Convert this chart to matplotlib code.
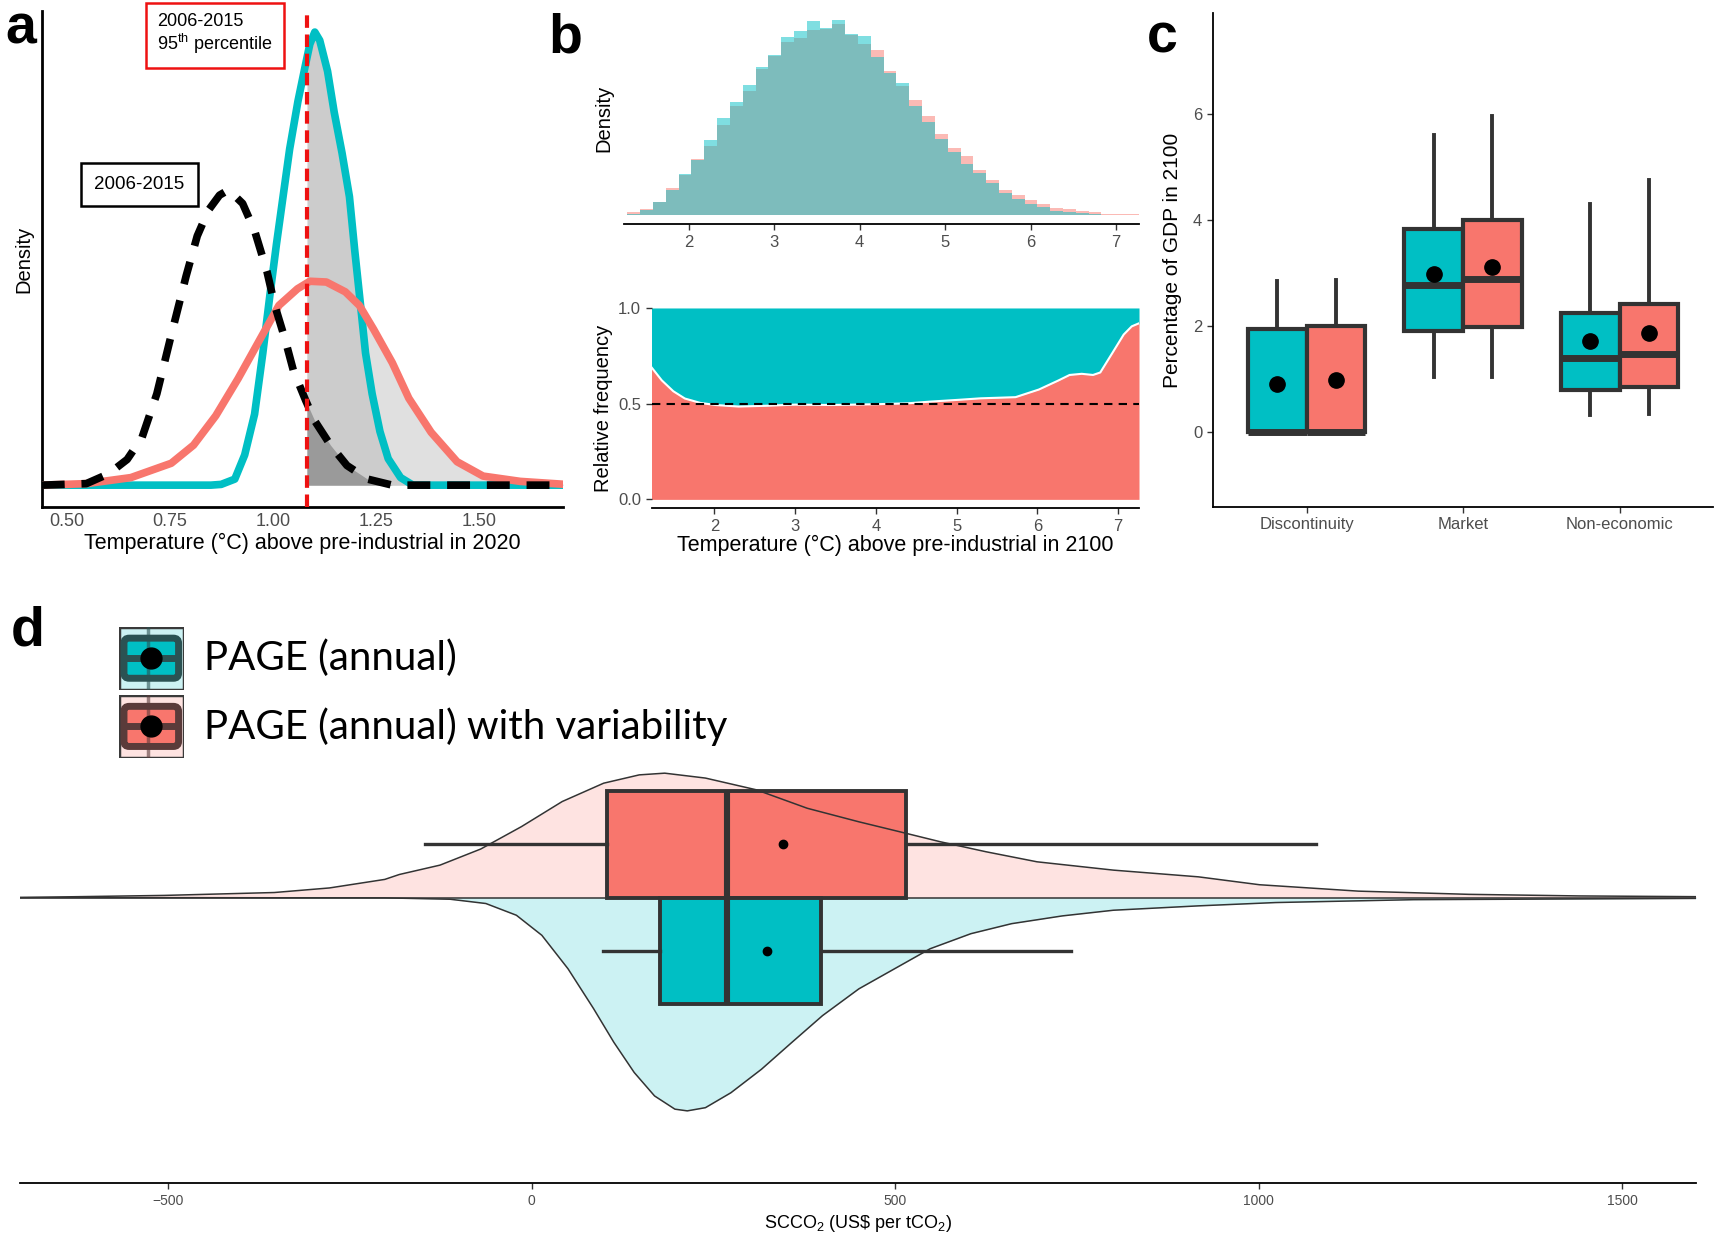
import numpy as np
import matplotlib
matplotlib.use("Agg")
import matplotlib.pyplot as plt
from matplotlib.patches import Rectangle, FancyBboxPatch

plt.rcParams['font.family'] = ['Liberation Sans', 'DejaVu Sans']
plt.rcParams['mathtext.fontset'] = 'custom'
plt.rcParams['mathtext.rm'] = 'Liberation Sans'
plt.rcParams['mathtext.it'] = 'Liberation Sans:italic'
plt.rcParams['mathtext.bf'] = 'Liberation Sans:bold'

TEAL = '#00BFC4'
SALMON = '#F8766D'
TICK_GREY = '#4D4D4D'
DARK = '#333333'

# ---- panel a: warming in 2020 (density, arbitrary units)
a_teal_x = [0.44, 0.85, 0.875, 0.908, 0.932, 0.956, 0.976, 0.993, 1.009, 1.025, 1.041, 1.061, 1.078,
            1.090, 1.102, 1.114, 1.133, 1.149, 1.168, 1.186, 1.199, 1.213, 1.225, 1.241, 1.26, 1.28,
            1.31, 1.34, 1.71]
a_teal_y = [0, 0, 0.01, 0.08, 0.40, 0.94, 1.75, 2.51, 3.19, 3.82, 4.45, 5.08, 5.53,
            5.84, 6.0, 5.89, 5.48, 4.94, 4.40, 3.82, 3.10, 2.38, 1.75, 1.21, 0.71, 0.35,
            0.10, 0.0, 0]
a_red_x = [0.44, 0.548, 0.656, 0.754, 0.808, 0.862, 0.916, 0.970, 1.015, 1.060, 1.090,
           1.130, 1.176, 1.210, 1.245, 1.290, 1.330, 1.384, 1.447, 1.510, 1.600, 1.71]
a_red_y = [0, 0.02, 0.10, 0.29, 0.53, 0.92, 1.41, 1.94, 2.38, 2.60, 2.70,
           2.69, 2.56, 2.38, 2.06, 1.62, 1.15, 0.70, 0.31, 0.12, 0.05, 0.01]
a_obs_x = [0.44, 0.548, 0.602, 0.647, 0.683, 0.719, 0.754, 0.790, 0.817, 0.844, 0.871, 0.893,
           0.927, 0.956, 0.986, 1.005, 1.030, 1.050, 1.080, 1.102, 1.140, 1.180, 1.230, 1.290, 1.71]
a_obs_y = [0, 0.02, 0.15, 0.34, 0.63, 1.21, 1.99, 2.77, 3.30, 3.64, 3.84, 3.91,
           3.73, 3.37, 2.83, 2.38, 1.93, 1.52, 1.12, 0.85, 0.53, 0.26, 0.08, 0, 0]
a_p95 = 1.083
a_ticks = [0.50, 0.75, 1.00, 1.25, 1.50]

# ---- panel b: warming in 2100
b_bin_start = 1.28
b_bin_width = 0.15
b_hist_teal = [3, 12, 35, 68, 111, 148, 201, 263, 305, 351, 401, 431, 481, 496, 524, 506, 526, 488, 483, 428,
               383, 356, 295, 251, 205, 170, 138, 113, 86, 58, 43, 30, 20, 11, 8, 5, 3, 0, 0, 0]
b_hist_red = [6, 16, 35, 71, 108, 150, 185, 243, 293, 336, 393, 430, 468, 478, 500, 503, 516, 486, 463, 445,
              390, 348, 311, 268, 218, 180, 160, 120, 94, 66, 53, 40, 30, 18, 15, 10, 6, 3, 3, 2]
b_rf_x = [1.22, 1.347, 1.49, 1.633, 1.824, 2.014, 2.30, 2.634, 3.0, 3.445, 4.0, 4.40, 4.68,
          5.02, 5.30, 5.73, 6.02, 6.26, 6.40, 6.55, 6.69, 6.78, 6.93, 7.07, 7.17, 7.26]
b_rf_y = [0.69, 0.622, 0.565, 0.527, 0.504, 0.493, 0.485, 0.489, 0.495, 0.493, 0.497, 0.502, 0.511,
          0.520, 0.528, 0.534, 0.574, 0.621, 0.650, 0.656, 0.650, 0.663, 0.765, 0.861, 0.904, 0.920]

# ---- panel c: damages by sector, % GDP in 2100
c_cats = ['Discontinuity', 'Market', 'Non-economic']
c_teal_q1 = [0.0, 1.91, 0.80]
c_teal_med = [0.0, 2.78, 1.40]
c_teal_q3 = [1.95, 3.83, 2.25]
c_teal_lo = [0.0, 1.04, 0.33]
c_teal_hi = [2.85, 5.60, 4.31]
c_teal_mean = [0.91, 2.99, 1.73]
c_red_q1 = [0.0, 1.99, 0.86]
c_red_med = [0.0, 2.90, 1.48]
c_red_q3 = [2.01, 4.01, 2.42]
c_red_lo = [0.0, 1.04, 0.34]
c_red_hi = [2.87, 5.96, 4.76]
c_red_mean = [0.98, 3.11, 1.88]

# ---- panel d: SCCO2 distribution (half violins, box = 1 unit tall)
d_red_x = [-705, -505, -354, -278, -202, -182, -126, -70, -14, 42, 99, 148, 183, 239, 309, 379,
           450, 506, 562, 625, 695, 800, 917, 1001, 1137, 1289, 1441, 1604]
d_red_h = [0, 0.02, 0.047, 0.09, 0.17, 0.216, 0.304, 0.455, 0.665, 0.90, 1.072, 1.15, 1.166, 1.12, 1.01, 0.837,
           0.71, 0.617, 0.523, 0.429, 0.335, 0.257, 0.194, 0.12, 0.06, 0.03, 0.015, 0.008]
d_teal_x = [-705, -202, -112, -63, -21, 14, 50, 85, 113, 141, 169, 197, 214, 239, 274, 316, 358,
            400, 450, 499, 548, 604, 660, 730, 800, 917, 1023, 1213, 1604]
d_teal_h = [0, 0.003, 0.016, 0.056, 0.166, 0.354, 0.668, 1.04, 1.357, 1.64, 1.86, 1.984, 2.0, 1.97, 1.83, 1.61, 1.357,
            1.107, 0.856, 0.668, 0.48, 0.339, 0.245, 0.172, 0.119, 0.078, 0.047, 0.02, 0.008]
d_red_box = dict(q1=104, med=269, q3=515, whislo=-147, whishi=1078, mean=345)
d_teal_box = dict(q1=176, med=268, q3=398, whislo=98, whishi=742, mean=324)
d_ticks = [-500, 0, 500, 1000, 1500]
legend_labels = ['PAGE (annual)', 'PAGE (annual) with variability']

fig = plt.figure(figsize=(17.19, 12.56), dpi=100)


def right_part(xs, ys, thr):
    xs = np.asarray(xs, float)
    ys = np.asarray(ys, float)
    keep = xs > thr
    return np.r_[thr, xs[keep]], np.r_[np.interp(thr, xs, ys), ys[keep]]


# ================= panel a
ax = fig.add_axes([0.0243, 0.5963, 0.3035, 0.395])
for xs, ys, col in [(a_red_x, a_red_y, '#E0E0E0'), (a_teal_x, a_teal_y, '#CCCCCC'),
                    (a_obs_x, a_obs_y, '#9A9A9A')]:
    fx, fy = right_part(xs, ys, a_p95)
    ax.fill_between(fx, 0, fy, color=col, lw=0, zorder=1)
ax.plot(a_teal_x, a_teal_y, color=TEAL, lw=5.5, zorder=3, solid_joinstyle='round')
ax.plot(a_red_x, a_red_y, color=SALMON, lw=5.5, zorder=3, solid_joinstyle='round')
ax.plot(a_obs_x, a_obs_y, color='black', lw=5.5, zorder=4, dashes=(3, 2.2))
ax.axvline(a_p95, color='#EE1111', lw=3, dashes=(3, 1.6), zorder=5)
ax.set_xlim(0.44, 1.705)
ax.set_ylim(-0.29, 6.28)
ax.set_xticks(a_ticks)
ax.set_xticklabels(['%.2f' % t for t in a_ticks])
ax.tick_params(axis='x', length=0, labelsize=13, labelcolor=TICK_GREY, pad=4)
ax.set_yticks([])
for s in ['top', 'right']:
    ax.spines[s].set_visible(False)
for s in ['left', 'bottom']:
    ax.spines[s].set_linewidth(2)
ax.set_xlabel('Temperature (°C) above pre-industrial in 2020', fontsize=15.5, labelpad=2)
ax.set_ylabel('Density', fontsize=14.5, labelpad=6)
ax.text(0.2215, 0.996, '2006-2015\n95$^{\\mathrm{th}}$ percentile', transform=ax.transAxes,
        fontsize=13, va='top', ha='left', linespacing=1.1,
        bbox=dict(boxstyle='square,pad=0.65', fc='white', ec='#EE1111', lw=1.8))
ax.text(0.101, 0.65, '2006-2015', transform=ax.transAxes, fontsize=13.5, va='center', ha='left',
        bbox=dict(boxstyle='square,pad=0.7', fc='white', ec='black', lw=1.8))

# ================= panel b (top histogram)
edges = b_bin_start + b_bin_width * np.arange(len(b_hist_teal))
axb = fig.add_axes([0.363, 0.8214, 0.2996, 0.168])
axb.bar(edges, b_hist_red, width=b_bin_width, align='edge', color=SALMON, alpha=0.5, lw=0)
axb.bar(edges, b_hist_teal, width=b_bin_width, align='edge', color=TEAL, alpha=0.5, lw=0)
axb.set_xlim(1.24, 7.27)
axb.set_ylim(-26, 545)
axb.set_yticks([])
axb.set_xticks([2, 3, 4, 5, 6, 7])
axb.tick_params(axis='x', labelsize=12, labelcolor=TICK_GREY, length=4, width=1, color=DARK)
for s in ['top', 'right', 'left']:
    axb.spines[s].set_visible(False)
axb.spines['bottom'].set_linewidth(1.3)
axb.set_ylabel('Density', fontsize=14.5, labelpad=8)

# ================= panel b (relative frequency)
axr = fig.add_axes([0.379, 0.5954, 0.2836, 0.1594])
rx = np.asarray(b_rf_x)
ry = np.asarray(b_rf_y)
axr.fill_between(rx, 0, ry, color=SALMON, lw=0)
axr.fill_between(rx, ry, 1, color=TEAL, lw=0)
axr.plot(rx, ry, color='white', lw=1.5)
axr.axhline(0.5, color='black', lw=1.5, dashes=(4, 3))
axr.set_xlim(1.22, 7.26)
axr.set_ylim(-0.046, 1.0)
axr.set_xticks([2, 3, 4, 5, 6, 7])
axr.set_yticks([0.0, 0.5, 1.0])
axr.set_yticklabels(['0.0', '0.5', '1.0'])
axr.tick_params(labelsize=12, labelcolor=TICK_GREY, length=4, width=1, color=DARK)
for s in ['top', 'right', 'left']:
    axr.spines[s].set_visible(False)
axr.spines['bottom'].set_linewidth(1.3)
axr.set_ylabel('Relative frequency', fontsize=14.5, labelpad=4)
axr.set_xlabel('Temperature (°C) above pre-industrial in 2100', fontsize=15.5, labelpad=1)

# ================= panel c
axc = fig.add_axes([0.7055, 0.5963, 0.2913, 0.393])


def stats(q1, med, q3, lo, hi, mean):
    return [dict(q1=a, med=b, q3=c, whislo=d, whishi=e, mean=f, fliers=[])
            for a, b, c, d, e, f in zip(q1, med, q3, lo, hi, mean)]


pos = np.arange(1, len(c_cats) + 1)
for st, off, col in [(stats(c_teal_q1, c_teal_med, c_teal_q3, c_teal_lo, c_teal_hi, c_teal_mean), -0.1875, TEAL),
                     (stats(c_red_q1, c_red_med, c_red_q3, c_red_lo, c_red_hi, c_red_mean), 0.1875, SALMON)]:
    axc.bxp(st, positions=pos + off, widths=0.375, patch_artist=True, showmeans=True, showcaps=False,
            boxprops=dict(facecolor=col, edgecolor=DARK, lw=3),
            medianprops=dict(color=DARK, lw=5, solid_capstyle='butt'),
            whiskerprops=dict(color=DARK, lw=2.8),
            meanprops=dict(marker='o', markerfacecolor='black', markeredgecolor='black', markersize=11),
            manage_ticks=False)
axc.set_xlim(0.4, 3.6)
axc.set_ylim(-1.41, 7.9)
axc.set_xticks(pos)
axc.set_xticklabels(c_cats)
axc.set_yticks([0, 2, 4, 6])
axc.tick_params(labelsize=12, labelcolor=TICK_GREY, length=4, width=1, color=DARK)
for s in ['top', 'right']:
    axc.spines[s].set_visible(False)
for s in ['left', 'bottom']:
    axc.spines[s].set_linewidth(1.3)
axc.set_ylabel('Percentage of GDP in 2100', fontsize=15, labelpad=8)

# ================= panel d
axd = fig.add_axes([0.0115, 0.0578, 0.975, 0.338])
rdx = np.asarray(d_red_x, float)
rdh = np.asarray(d_red_h, float)
tdx = np.asarray(d_teal_x, float)
tdh = np.asarray(d_teal_h, float)
axd.fill_between(rdx, 0, rdh, color='#FEE3E1', lw=0, zorder=1)
axd.fill_between(tdx, 0, -tdh, color='#CCF2F3', lw=0, zorder=1)
for b, y, col in [(d_red_box, 0.5, SALMON), (d_teal_box, -0.5, TEAL)]:
    axd.bxp([dict(b, fliers=[])], positions=[y], widths=1.0, vert=False, patch_artist=True,
            showmeans=True, showcaps=False,
            boxprops=dict(facecolor=col, edgecolor=DARK, lw=2.8, zorder=2),
            medianprops=dict(color=DARK, lw=4.4, solid_capstyle='butt', zorder=2),
            whiskerprops=dict(color=DARK, lw=2.4, zorder=2),
            meanprops=dict(marker='o', markerfacecolor='black', markeredgecolor='black', markersize=6, zorder=4),
            manage_ticks=False)
axd.plot(rdx, rdh, color=DARK, lw=1.1, zorder=3, solid_joinstyle='round')
axd.plot(tdx, -tdh, color=DARK, lw=1.1, zorder=3, solid_joinstyle='round')
axd.plot([rdx[0], rdx[-1]], [0, 0], color=DARK, lw=1.1, zorder=3)
axd.set_xlim(-704, 1601)
axd.set_ylim(-2.68, 1.30)
axd.set_yticks([])
axd.set_xticks(d_ticks)
axd.tick_params(axis='x', labelsize=10, labelcolor=TICK_GREY, length=4, width=1, color=DARK)
for s in ['top', 'right', 'left']:
    axd.spines[s].set_visible(False)
axd.spines['bottom'].set_linewidth(1.3)
axd.set_xlabel('SCCO$_2$ (US\\$ per tCO$_2$)', fontsize=13, labelpad=4)

# legend keys drawn by hand
for (bot, light, fill, edge), label in zip([(0.451, '#CCF2F3', TEAL, '#2B5253'),
                                            (0.3967, '#FEE3E1', SALMON, '#5A3B3A')], legend_labels):
    k = fig.add_axes([0.0691, bot, 0.0378, 0.0499])
    k.set_xlim(0, 1)
    k.set_ylim(0, 1)
    k.axis('off')
    k.add_patch(Rectangle((0, 0), 1, 1, fc=light, ec='#3A3A3A', lw=2.5))
    k.plot([0.45, 0.45], [0.0, 1.0], color=edge, lw=2.5, alpha=0.6)
    k.add_patch(FancyBboxPatch((0.1, 0.2), 0.8, 0.6, boxstyle='round,pad=0.02,rounding_size=0.08',
                               fc=fill, ec=edge, lw=5))
    k.plot([0.1, 0.9], [0.5, 0.5], color=edge, lw=5)
    k.plot([0.5], [0.5], 'o', color='black', ms=15)
    fig.text(0.1184, bot + 0.025, label, fontsize=29, family='Lato', va='center', ha='left')

# panel letters
for x, y, s in [(0.003, 0.997, 'a'), (0.319, 0.990, 'b'), (0.667, 0.990, 'c'), (0.006, 0.518, 'd')]:
    fig.text(x, y, s, fontsize=40, fontweight='bold', va='top', ha='left')

fig.savefig('out.png', dpi=100)
